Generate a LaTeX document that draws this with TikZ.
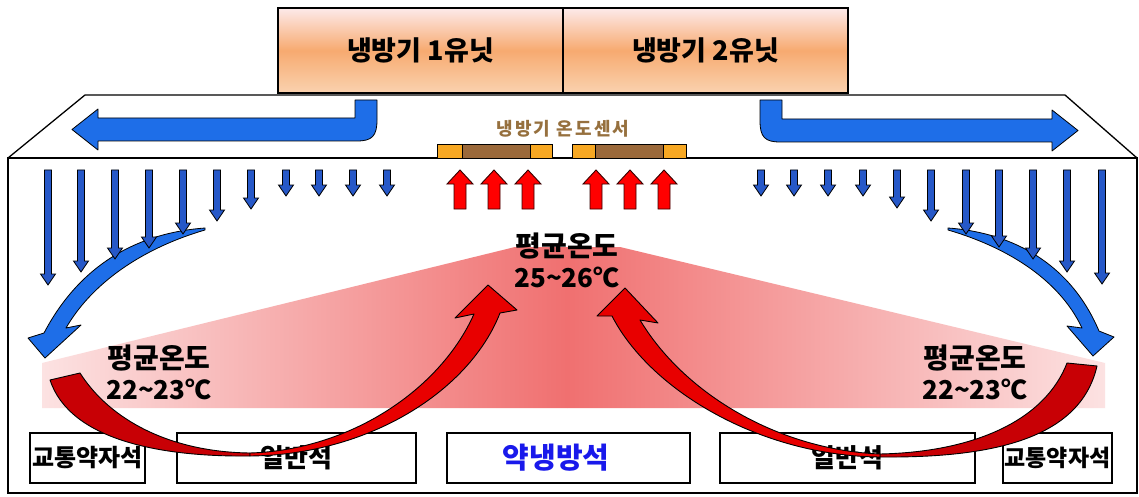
\documentclass[tikz,border=0pt]{standalone}
\usepackage{fontspec}
\setmainfont{Noto Sans CJK KR}
\definecolor{ductblue}{RGB}{30,110,232}
\definecolor{downblue}{RGB}{38,88,200}
\definecolor{sensorbrown}{RGB}{155,105,58}
\definecolor{sensororange}{RGB}{247,168,35}
\definecolor{labelbrown}{RGB}{150,112,62}
\definecolor{unittop}{RGB}{253,234,234}
\definecolor{unitmid}{RGB}{247,170,112}
\definecolor{unitbot}{RGB}{250,210,175}
\definecolor{zonepale}{RGB}{252,226,226}
\definecolor{zonedeep}{RGB}{240,112,112}
\definecolor{seatblue}{RGB}{25,25,235}
\definecolor{redhead}{RGB}{232,0,0}
\definecolor{redtail}{RGB}{200,0,5}
\newcommand{\hangulsize}{\fontsize{28}{31}\selectfont}
\newcommand{\numsize}{\fontsize{26}{31}\selectfont}
\tikzset{
  unitbox/.style={draw=black, line width=1.3pt, minimum width=285pt, minimum height=85pt,
    top color=unittop, bottom color=unitbot, middle color=unitmid, inner sep=0pt,
    font=\bfseries\fontsize{27}{30}\selectfont},
  wall/.style={draw=black, line width=1.6pt, line join=miter},
  duct/.style={fill=ductblue, draw=black, line width=0.8pt, line join=round},
  downarr/.style={fill=downblue, draw=black, line width=0.8pt, line join=miter},
  uparr/.style={fill=red, draw=black!80!red, line width=0.9pt, line join=miter},
  sensorend/.style={fill=sensororange, draw=black, line width=0.9pt},
  sensormid/.style={fill=sensorbrown, draw=black, line width=0.9pt},
  templabel/.style={align=center, inner sep=0pt, font=\bfseries\fontsize{26}{31}\selectfont},
  seat/.style={draw=black, line width=1.6pt, inner sep=0pt, minimum height=50pt},
  redpiecehead/.style={fill=redhead, draw=black, line width=0.9pt, line join=round},
  redpiecetail/.style={fill=redtail, draw=black, line width=0.9pt, line join=round},
}
\begin{document}
\begin{tikzpicture}[x=1pt,y=-1pt]
\useasboundingbox (0,0) rectangle (1139,497);
\fill[white] (0,0) rectangle (1139,497);

% air-conditioner units
\node[unitbox] (u1) at (420.5,50.5) {냉방기 1유닛};
\node[unitbox] (u2) at (705.5,50.5) {냉방기 2유닛};

% duct (trapezoid) and room
\draw[wall, line width=1.3pt] (8,158) -- (85,95) -- (1065,95) -- (1137,158);
\draw[wall] (8,158) rectangle (1137,493);

% pink temperature zone
\shade[left color=zonepale, right color=zonedeep]
  (42,363) -- (515,247) -- (567,247) -- (567,408) -- (42,408) -- cycle;
\shade[left color=zonedeep, right color=zonepale]
  (567,247) -- (620,247) -- (1105,363) -- (1105,408) -- (567,408) -- cycle;

% duct air arrows
\draw[duct] (377,100) -- (377,120) .. controls (377,136) and (372,141) .. (357,141)
  -- (98,141) -- (98,150) -- (72,129.5) -- (98,109) -- (98,118) -- (355,118) -- (355,100) -- cycle;
\draw[duct] (760,100) -- (760,121) .. controls (760,137) and (765,142) .. (780,142)
  -- (1052,142) -- (1052,151) -- (1078,130.5) -- (1052,110) -- (1052,119) -- (782,119) -- (782,100) -- cycle;

% sensor label and bars
\node[font=\bfseries\fontsize{18}{20}\selectfont\addfontfeatures{LetterSpace=12}, text=labelbrown, inner sep=0pt]
  (sl) at (563,129) {냉방기 온도센서};
\draw[sensorend] (437,144) rectangle (462,158);
\draw[sensormid] (462,144) rectangle (530,158);
\draw[sensorend] (530,144) rectangle (552,158);
\draw[sensorend] (572,144) rectangle (595,158);
\draw[sensormid] (595,144) rectangle (663,158);
\draw[sensorend] (663,144) rectangle (686,158);

% red up arrows
\foreach \cx in {460,494,528,596,630,664}
  \draw[uparr] (\cx-6,209) -- (\cx-6,184) -- (\cx-13,184) -- (\cx,170) -- (\cx+13,184) -- (\cx+6,184) -- (\cx+6,209) -- cycle;

% curved blue arrows
\draw[duct] (205,228) .. controls (150,232) and (85,255) .. (44,333) -- (28,338) -- (45,358)
  -- (81,325) -- (66,328) .. controls (95,278) and (150,246) .. (205,230) -- cycle;
\draw[duct] (948,228) .. controls (1005,232) and (1068,258) .. (1099,331) -- (1114,337) -- (1093,356)
  -- (1067,326) -- (1082,328) .. controls (1058,277) and (1003,246) .. (948,230) -- cycle;

% blue down arrows
\foreach \x/\yb in {48/285,81/272,115/259,149/248,183/234,217/221,251/209,286/196,319/196,353/196,387/196,
                    761/196,794/196,828/196,863/196,897/208,931/221,966/234,999/247,1033/259,1067/272,1102/284}
  \draw[downarr] (\x-3.5,170) -- (\x+3.5,170) -- (\x+3.5,\yb-11) -- (\x+7.5,\yb-11) -- (\x,\yb)
    -- (\x-7.5,\yb-11) -- (\x-3.5,\yb-11) -- cycle;

% temperature labels
\node[templabel] (tc) at (567,260) {{\hangulsize 평균온도}\\{\numsize 25\textasciitilde 26℃}};
\node[templabel] (tl) at (159,372) {{\hangulsize 평균온도}\\{\numsize 22\textasciitilde 23℃}};
\node[templabel] (tr) at (975,372) {{\hangulsize 평균온도}\\{\numsize 22\textasciitilde 23℃}};

% seats
\node[seat, minimum width=115pt, font=\bfseries\fontsize{24}{26}\selectfont] (s1) at (87.5,458) {교통약자석};
\node[seat, minimum width=239pt, font=\bfseries\fontsize{26}{28}\selectfont] (s2) at (296.5,458) {일반석};
\node[seat, minimum width=243pt] (s3) at (568.5,458) {};
\node[font=\bfseries\fontsize{29}{31}\selectfont, text=seatblue, inner sep=0pt] (s3t) at (556,458) {약냉방석};
\node[seat, minimum width=255pt, font=\bfseries\fontsize{26}{28}\selectfont] (s4) at (847.5,458) {일반석};
\node[seat, minimum width=109pt, font=\bfseries\fontsize{23}{25}\selectfont] (s5) at (1057.5,458) {교통약자석};

% red circulation arrows
\draw[redpiecetail] (50,380) .. controls (70,440) and (160,457) .. (250,456)
  -- (250,453) .. controls (170,452) and (110,420) .. (80,373) -- cycle;
\draw[redpiecehead] (250,456) .. controls (370,455) and (470,390) .. (500,313)
  -- (517,310) -- (488,285) -- (455,318) -- (474,314)
  .. controls (440,390) and (350,450) .. (250,453) -- cycle;
\draw[redpiecetail] (1097,366) .. controls (1080,440) and (990,458) .. (880,457)
  -- (880,454) .. controls (975,452) and (1045,420) .. (1067,363) -- cycle;
\draw[redpiecehead] (880,457) .. controls (760,456) and (650,390) .. (612,316)
  -- (597,316) -- (625,288) -- (658,323) -- (640,320)
  .. controls (685,395) and (780,450) .. (880,454) -- cycle;
\end{tikzpicture}
\end{document}
